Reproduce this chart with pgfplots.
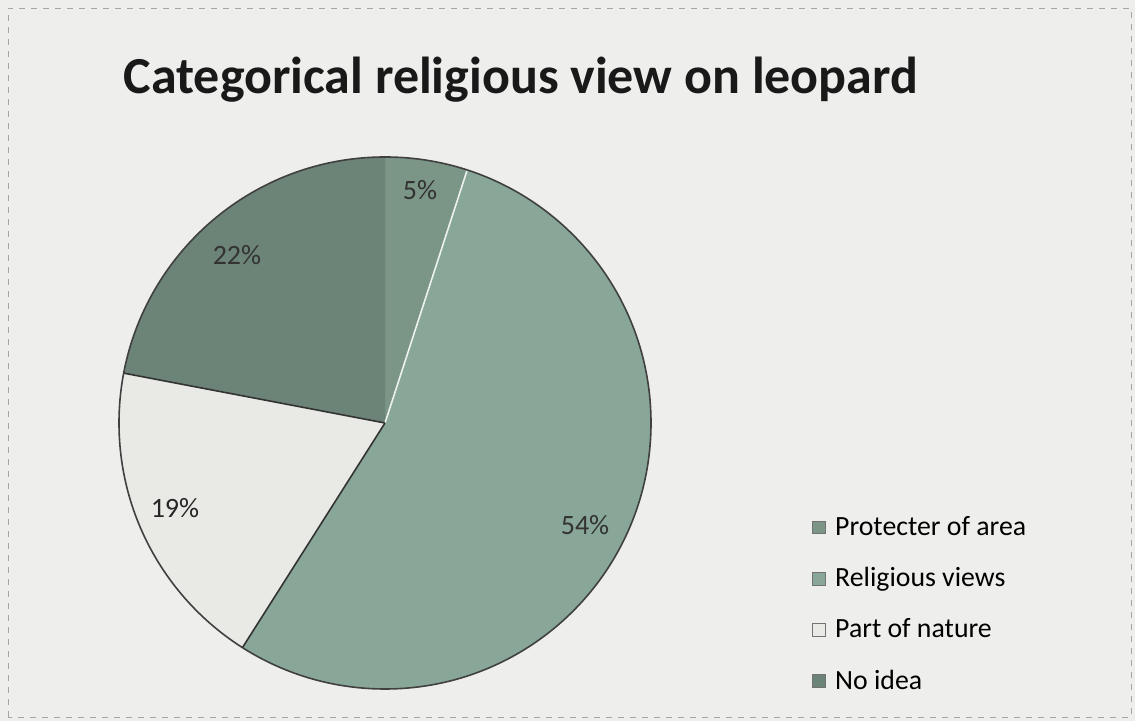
\documentclass[border=0pt]{standalone}
\usepackage{pgfplots}
\usepackage{pgfplotstable}
\pgfplotsset{compat=1.18}
\usepackage{fontspec}
\setmainfont{Carlito}

\definecolor{bgc}{HTML}{EEEEEC}
\definecolor{sliceA}{HTML}{7B9587}
\definecolor{sliceB}{HTML}{88A798}
\definecolor{sliceC}{HTML}{E9E9E6}
\definecolor{sliceD}{HTML}{6C8377}

% share of each answer, clockwise from 12 o'clock
\pgfplotstableread{
idx value
0 5
1 54
2 19
3 22
}\piedata

\begin{document}
\begin{tikzpicture}
\pgfplotstablegetelem{0}{value}\of\piedata \let\vA\pgfplotsretval
\pgfplotstablegetelem{1}{value}\of\piedata \let\vB\pgfplotsretval
\pgfplotstablegetelem{2}{value}\of\piedata \let\vC\pgfplotsretval
\pgfplotstablegetelem{3}{value}\of\piedata \let\vD\pgfplotsretval
\pgfmathsetmacro\aA{90}
\pgfmathsetmacro\aB{\aA-3.6*\vA}
\pgfmathsetmacro\aC{\aB-3.6*\vB}
\pgfmathsetmacro\aD{\aC-3.6*\vC}
\pgfmathsetmacro\aE{\aD-3.6*\vD}
\begin{axis}[
    scale only axis, width=567.5pt, height=360.5pt,
    xmin=0, xmax=1135, ymin=0, ymax=721,
    hide axis, clip=false,
    legend cell align=left,
    legend image code/.code={\draw[#1, draw=black!55, line width=0.5pt] (0pt,-3.2pt) rectangle (6.4pt,3.2pt);},
    legend style={at={(axis cs:806,213)}, anchor=north west, draw=none, fill=none,
        font=\fontsize{13.9}{16}\selectfont, row sep=10.5pt,
        /tikz/every odd column/.append style={column sep=2.5pt}},
]
\fill[bgc] (0,0) rectangle (1135,721);
\draw[black!35, dashed, line width=0.4pt] (8,4) rectangle (1131,713);

\fill[sliceA] (385,298) -- ++(\aA:133pt) arc[start angle=\aA, end angle=\aB, radius=133pt] -- cycle;
\fill[sliceB] (385,298) -- ++(\aB:133pt) arc[start angle=\aB, end angle=\aC, radius=133pt] -- cycle;
\fill[sliceC] (385,298) -- ++(\aC:133pt) arc[start angle=\aC, end angle=\aD, radius=133pt] -- cycle;
\fill[sliceD] (385,298) -- ++(\aD:133pt) arc[start angle=\aD, end angle=\aE, radius=133pt] -- cycle;
\draw[white!85!sliceB, line width=0.8pt] (385,298) -- ++(\aB:133pt);
\draw[black!80, line width=0.8pt] (385,298) -- ++(\aC:133pt);
\draw[black!80, line width=0.8pt] (385,298) -- ++(\aD:133pt);
\draw[black!75, line width=0.8pt] (385,298) circle[radius=133pt];

\node[text=black!80, font=\fontsize{14}{16}\selectfont] at (420,531) {5\%};
\node[text=black!80, font=\fontsize{14}{16}\selectfont] at (585,196) {54\%};
\node[text=black!85, font=\fontsize{14}{16}\selectfont] at (175,213) {19\%};
\node[text=black!80, font=\fontsize{14}{16}\selectfont] at (237,466) {22\%};

\node[text=black!90, font=\bfseries\fontsize{26}{31}\selectfont] at (521,641) {Categorical religious view on leopard};

\addlegendimage{fill=sliceA}
\addlegendentry{Protecter of area}
\addlegendimage{fill=sliceB}
\addlegendentry{Religious views}
\addlegendimage{fill=sliceC}
\addlegendentry{Part of nature}
\addlegendimage{fill=sliceD}
\addlegendentry{No idea}
\end{axis}
\end{tikzpicture}
\end{document}
